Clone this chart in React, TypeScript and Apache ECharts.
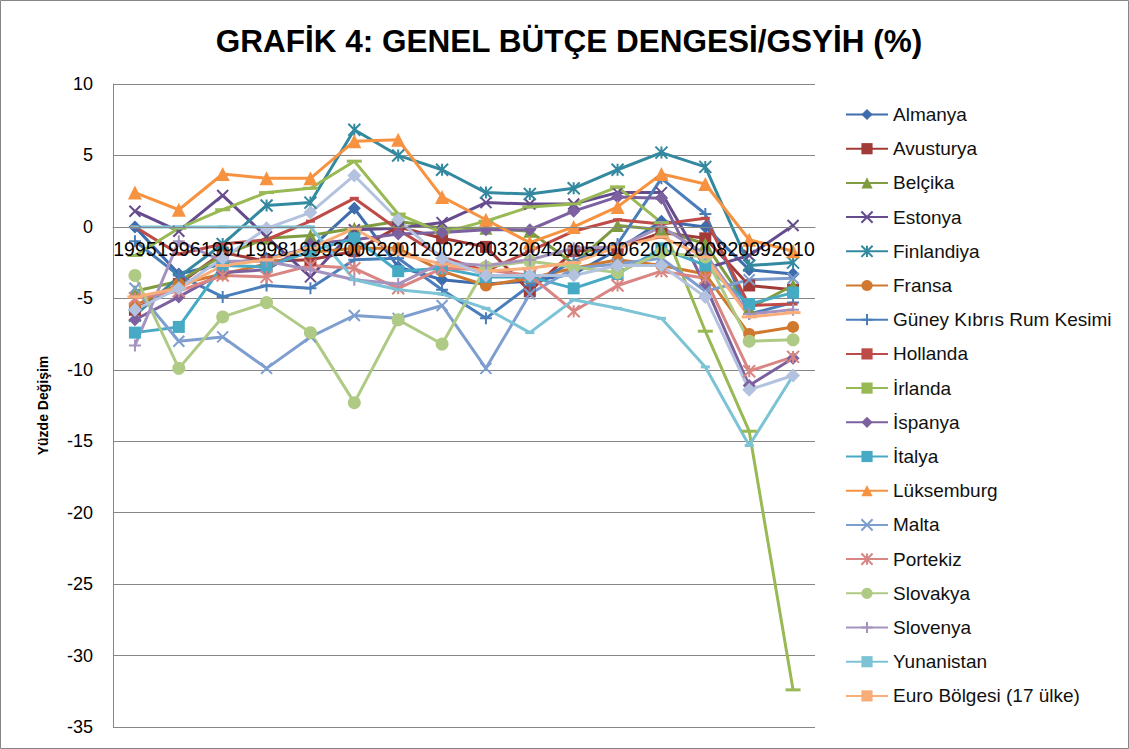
import React, { useEffect, useRef } from "react";
import * as echarts from "echarts";

const years = ["1995","1996","1997","1998","1999","2000","2001","2002","2003","2004","2005","2006","2007","2008","2009","2010"];

const almanya = [0, -3.3, -2.6, -2.2, -1.5, 1.3, -2.8, -3.7, -4.0, -3.8, -3.3, -1.6, 0.4, 0.0, -3.0, -3.3];
const avusturya = [-5.8, -4.0, -1.8, -2.4, -2.3, -1.7, 0.0, -0.8, -1.4, -4.5, -1.7, -1.5, -0.4, -0.8, -4.1, -4.4];
const belcika = [-4.5, -3.8, -2.0, -0.8, -0.6, -0.1, 0.4, -0.1, -0.1, -0.3, -2.6, 0.1, -0.2, -1.2, -5.7, -4.1];
const estonya = [1.1, -0.3, 2.2, -0.7, -3.5, -0.2, -0.1, 0.3, 1.7, 1.6, 1.6, 2.4, 2.4, -2.9, -2.0, 0.1];
const finlandiya = [-6.2, -3.5, -1.2, 1.5, 1.7, 6.8, 5.0, 4.0, 2.4, 2.3, 2.7, 4.0, 5.2, 4.2, -2.7, -2.5];
const fransa = [-5.5, -4.0, -3.3, -2.6, -1.8, -1.5, -1.5, -3.1, -4.1, -3.6, -2.9, -2.3, -2.7, -3.3, -7.5, -7.0];
const kibris = [-1.0, -3.4, -4.9, -4.1, -4.3, -2.3, -2.2, -4.4, -6.4, -4.1, -2.4, -1.2, 3.4, 0.9, -6.1, -5.3];
const hollanda = [0, -1.9, -1.2, -0.9, 0.4, 2.0, -0.2, -2.1, -3.1, -1.7, -0.3, 0.5, 0.2, 0.6, -5.5, -5.4];
const irlanda = [-2.0, -0.1, 1.2, 2.4, 2.7, 4.6, 0.9, -0.4, 0.4, 1.4, 1.6, 2.8, 0.3, -7.3, -14.3, -32.4];
const ispanya = [-6.5, -4.9, -3.2, -3.0, -1.2, -0.9, -0.5, -0.4, -0.2, -0.2, 1.1, 2.1, 2.0, -4.1, -11.1, -9.2];
const italya = [-7.4, -7.0, -2.7, -2.8, -1.7, -0.8, -3.1, -2.9, -3.5, -3.5, -4.3, -3.3, -1.5, -2.7, -5.4, -4.6];
const luksemburg = [2.4, 1.2, 3.7, 3.4, 3.4, 6.0, 6.1, 2.1, 0.5, -1.1, 0.0, 1.4, 3.7, 3.0, -0.9, -1.7];
const malta = [-4.3, -8.0, -7.7, -9.9, -7.7, -6.2, -6.4, -5.5, -9.9, -4.7, -2.9, -2.6, -2.2, -4.5, -3.7, -3.6];
const portekiz = [-5.0, -4.5, -3.4, -3.5, -2.7, -2.9, -4.3, -2.9, -3.0, -3.4, -5.9, -4.1, -3.1, -3.6, -10.1, -9.1];
const slovakya = [-3.4, -9.9, -6.3, -5.3, -7.4, -12.3, -6.5, -8.2, -2.8, -2.4, -2.8, -3.2, -1.8, -2.1, -8.0, -7.9];
const slovenya = [-8.3, -1.0, -2.4, -2.4, -3.0, -3.7, -4.0, -2.5, -2.7, -2.3, -1.5, -1.4, 0.0, -1.9, -6.1, -5.8];
const yunanistan = [0, 0, 0, 0, 0, -3.7, -4.4, -4.7, -5.7, -7.4, -5.1, -5.7, -6.4, -9.8, -15.3, -10.4];
const euroBolgesi = [-4.9, -4.3, -2.7, -2.3, -1.5, -0.1, -1.9, -2.6, -3.1, -2.9, -2.5, -1.4, -0.7, -2.1, -6.3, -6.0];
const ingiltere = [-5.8, -4.3, -2.2, -0.1, 1.0, 3.6, 0.5, -2.2, -3.4, -3.4, -3.4, -2.7, -2.7, -4.9, -11.4, -10.4];

const yTicks = { min: -35, max: 10, interval: 5 };

const X_PATH = "path://M0,0L10,10M10,0L0,10";
const PLUS_PATH = "path://M5,0L5,10M0,5L10,5";
const STAR_PATH = "path://M0,0L10,10M10,0L0,10M5,0L5,10";

type Def = { name: string; data: number[]; color: string; symbol: string; size: any; stroke?: boolean };

const defs: Def[] = [
  { name: "Almanya", data: almanya, color: "#3E6DAE", symbol: "diamond", size: 13 },
  { name: "Avusturya", data: avusturya, color: "#A23B38", symbol: "rect", size: 12 },
  { name: "Belçika", data: belcika, color: "#7F9C41", symbol: "triangle", size: 13 },
  { name: "Estonya", data: estonya, color: "#664C8E", symbol: X_PATH, size: 11, stroke: true },
  { name: "Finlandiya", data: finlandiya, color: "#33899F", symbol: STAR_PATH, size: 12, stroke: true },
  { name: "Fransa", data: fransa, color: "#D0782E", symbol: "circle", size: 12 },
  { name: "Güney Kıbrıs Rum Kesimi", data: kibris, color: "#4A7EBB", symbol: PLUS_PATH, size: 12, stroke: true },
  { name: "Hollanda", data: hollanda, color: "#BE4B48", symbol: "rect", size: [9, 3] },
  { name: "İrlanda", data: irlanda, color: "#98B954", symbol: "rect", size: [15, 3] },
  { name: "İspanya", data: ispanya, color: "#7D60A0", symbol: "diamond", size: 13 },
  { name: "İtalya", data: italya, color: "#46AAC5", symbol: "rect", size: 12 },
  { name: "Lüksemburg", data: luksemburg, color: "#F69240", symbol: "triangle", size: 14 },
  { name: "Malta", data: malta, color: "#7E9ECF", symbol: X_PATH, size: 11, stroke: true },
  { name: "Portekiz", data: portekiz, color: "#D88583", symbol: STAR_PATH, size: 12, stroke: true },
  { name: "Slovakya", data: slovakya, color: "#AFCA84", symbol: "circle", size: 13 },
  { name: "Slovenya", data: slovenya, color: "#A493BF", symbol: PLUS_PATH, size: 12, stroke: true },
  { name: "Yunanistan", data: yunanistan, color: "#7CC3D6", symbol: "rect", size: [9, 3] },
  { name: "Euro Bölgesi (17 ülke)", data: euroBolgesi, color: "#F9AE79", symbol: "rect", size: [15, 3] },
  { name: "İngiltere", data: ingiltere, color: "#B3C2DE", symbol: "diamond", size: 14 },
];

const GRID_TOP = 84;
const GRID_BOTTOM_Y = 727;

export default function App() {
  const ref = useRef<HTMLDivElement>(null);
  useEffect(() => {
    if (!ref.current) return;
    const chart = echarts.init(ref.current, undefined, { renderer: "svg" });
    const font = "'Liberation Sans', Arial, sans-serif";
    const zeroY = GRID_TOP + ((yTicks.max - 0) / (yTicks.max - yTicks.min)) * (GRID_BOTTOM_Y - GRID_TOP);
    const series = defs.map((d) => ({
      name: d.name,
      type: "line",
      data: d.data,
      symbol: d.symbol,
      symbolSize: d.size,
      showAllSymbol: true,
      lineStyle: { color: d.color, width: 3 },
      itemStyle: d.stroke
        ? { color: d.color, borderColor: d.color, borderWidth: 2 }
        : { color: d.color, borderWidth: 0 },
    }));
    chart.setOption({
      animation: false,
      backgroundColor: "#ffffff",
      title: {
        text: "GRAFİK 4: GENEL BÜTÇE DENGESİ/GSYİH (%)",
        left: 564,
        textAlign: "center",
        top: 20,
        textStyle: { fontFamily: font, fontSize: 31.5, fontWeight: "bold", color: "#000" },
      },
      legend: {
        orient: "vertical",
        left: 840,
        top: 100,
        data: defs.slice(0, 18).map((d) => d.name),
        itemWidth: 42,
        itemHeight: 14,
        itemGap: 15.2,
        textStyle: { fontFamily: font, fontSize: 19, color: "#111", lineHeight: 17 },
      },
      grid: {
        left: 113,
        right: 314,
        top: GRID_TOP,
        bottom: 749 - GRID_BOTTOM_Y,
        containLabel: false,
        outerBoundsMode: "none",
      },
      xAxis: {
        type: "category",
        data: years,
        boundaryGap: true,
        position: "bottom",
        offset: -(GRID_BOTTOM_Y - zeroY),
        z: 10,
        axisLine: { onZero: false, lineStyle: { color: "#868686", width: 1 } },
        axisTick: { show: false },
        axisLabel: { fontFamily: font, fontSize: 19.5, color: "#000", margin: 12, interval: 0 },
      },
      yAxis: {
        type: "value",
        min: yTicks.min,
        max: yTicks.max,
        interval: yTicks.interval,
        name: "Yüzde Değişim",
        nameLocation: "middle",
        nameGap: 63,
        nameTextStyle: { fontFamily: font, fontSize: 14, fontWeight: "bold", color: "#000" },
        axisLine: { show: true, lineStyle: { color: "#868686" } },
        axisTick: { show: false },
        splitLine: { lineStyle: { color: "#868686", width: 1 } },
        axisLabel: { fontFamily: font, fontSize: 18, color: "#000", margin: 20 },
      },
      graphic: [
        {
          type: "rect",
          shape: { x: 0.5, y: 0.5, width: 1128, height: 748 },
          style: { fill: "none", stroke: "#868686", lineWidth: 1 },
          silent: true,
        },
      ],
      series,
    });
    return () => chart.dispose();
  }, []);
  return (
    <div
      ref={ref}
      style={{ position: "fixed", left: 0, top: 0, width: 1129, height: 749 }}
    />
  );
}
